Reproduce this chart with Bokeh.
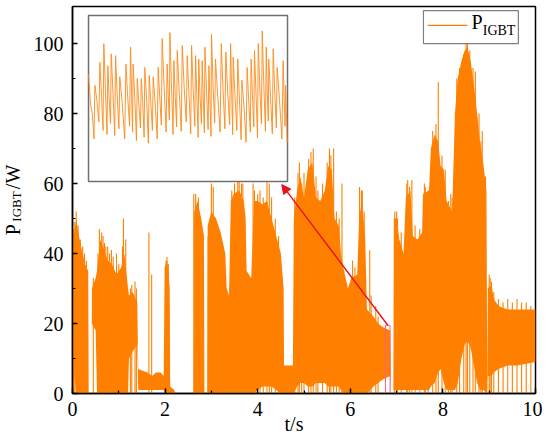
from bokeh.plotting import figure
from bokeh.models import (FixedTicker, Label, Arrow, NormalHead, Title)
from bokeh.embed import file_html
from bokeh.resources import INLINE

# ---------------- data ----------------
x_ticks = [0, 2, 4, 6, 8, 10]
x_minor = [1, 3, 5, 7, 9]
y_ticks = [0, 20, 40, 60, 80, 100]
y_minor = [10, 30, 50, 70, 90]

# envelope of the dense P_IGBT signal: time (s), lower (W), upper (W)
env_t = [0.00, 0.04, 0.08, 0.14, 0.20, 0.27, 0.34, 0.35, 0.41, 0.42, 0.50, 0.53,
         0.60, 0.68, 0.76, 0.85, 0.95, 1.05, 1.12, 1.20, 1.22, 1.30, 1.40, 1.42,
         1.62, 1.72, 1.80, 1.90, 1.97, 1.99, 2.05, 2.10, 2.11, 2.20, 2.22, 2.62,
         2.63, 2.70, 2.78, 2.84, 2.85, 2.91, 2.92, 3.00, 3.10, 3.20, 3.30, 3.33,
         3.38, 3.42, 3.48, 3.60, 3.70, 3.74, 3.76, 3.86, 3.88, 3.92, 4.00, 4.10,
         4.20, 4.30, 4.40, 4.50, 4.56, 4.57, 4.76, 4.78, 4.85, 4.92, 5.00, 5.08,
         5.18, 5.26, 5.35, 5.45, 5.52, 5.60, 5.66, 5.75, 5.80, 5.85, 5.95, 6.02,
         6.15, 6.19, 6.25, 6.32, 6.36, 6.50, 6.60, 6.70, 6.86, 6.88, 6.93, 6.94,
         7.00, 7.06, 7.15, 7.20, 7.30, 7.35, 7.45, 7.55, 7.57, 7.70, 7.74, 7.82,
         7.90, 7.95, 8.02, 8.08, 8.20, 8.26, 8.32, 8.40, 8.47, 8.53, 8.60, 8.67,
         8.74, 8.80, 8.88, 8.94, 8.96, 8.97, 9.05, 9.10, 9.20, 9.40, 9.60, 9.80,
         10.0]
env_lo = [20, 5, 0, 0, 0, 0, 0, 0, 0, 20, 18, 0,
          0, 0, 0, 0, 0, 0, 0, 0, 10, 12, 14, 1,
          1, 1, 1, 1, 1, 0, 0, 0, 0, 0, 0, 0,
          0, 0, 0, 0, 0, 0, 0, 0, 0, 0, 0, 0,
          0, 0, 0, 0, 0, 0, 0, 0, 0, 0, 1, 2,
          2, 2, 1, 0, 0, 0, 0, 0, 2, 3, 3, 2,
          2, 3, 3, 3, 2, 2, 2, 2, 1, 0, 0, 0,
          0, 0, 0, 0, 0, 2, 3, 4, 5, 0, 0, 1,
          1, 1, 1, 1, 1, 1, 1, 1, 1, 1, 2, 3,
          6, 7, 3, 1, 1, 1, 3, 10, 14, 15, 13, 8,
          3, 1, 1, 0, 0, 5, 5, 6, 7, 8, 8, 8.5,
          9]
env_hi = [44, 46, 50, 45, 41, 37, 35, 0, 0, 30, 33, 35,
          44, 41, 38, 37, 34, 36, 40, 30, 28, 29, 26, 7,
          6, 5, 6, 6, 5, 36, 38, 30, 2, 1, 0, 0,
          52, 55, 50, 45, 0, 0, 48, 52, 50, 46, 40, 30,
          28, 55, 57, 58, 55, 50, 35, 33, 40, 55, 55, 54,
          55, 50, 45, 40, 30, 8, 8, 50, 58, 62, 56, 64,
          66, 56, 55, 58, 65, 64, 50, 48, 40, 36, 30, 33,
          34, 50, 55, 45, 24, 22, 20, 19, 18, 0, 0, 50,
          50, 44, 40, 56, 58, 45, 44, 46, 57, 58, 70, 74,
          72, 65, 64, 55, 52, 80, 90, 95, 98, 99, 95, 88,
          80, 72, 65, 58, 0, 30, 31, 27, 25, 24, 24, 24,
          24]

# isolated spikes: time (s), peak (W)
spike_t = [0.02, 0.05, 0.08, 0.12, 0.17, 0.22, 0.26, 0.30, 0.45, 0.55, 0.58, 0.63,
           0.66, 0.69, 0.72, 0.76, 0.80, 0.84, 0.88, 0.95, 1.00, 1.08, 1.10, 1.15,
           1.25, 1.28, 1.35, 1.38, 1.65, 1.71, 2.02, 2.04, 2.07, 2.62, 2.64, 2.66,
           2.72, 2.93, 3.00, 3.04, 3.12, 3.20, 3.44, 3.50, 3.52, 3.57, 3.60, 3.65,
           3.68, 3.90, 3.93, 4.00, 4.05, 4.12, 4.20, 4.25, 4.30, 4.38, 4.45, 4.80,
           4.87, 4.90, 4.95, 5.00, 5.10, 5.15, 5.20, 5.26, 5.30, 5.40, 5.50, 5.55,
           5.58, 5.64, 5.70, 5.76, 5.82, 6.05, 6.10, 6.20, 6.24, 6.26, 6.30, 6.42,
           6.45, 6.55, 6.60, 6.96, 7.00, 7.02, 7.10, 7.22, 7.24, 7.28, 7.33, 7.40,
           7.50, 7.60, 7.62, 7.68, 7.78, 7.85, 7.90, 7.98, 8.05, 8.12, 8.17, 8.20,
           8.30, 8.36, 8.45, 8.50, 8.53, 8.58, 8.65, 8.70, 8.78, 8.82, 8.85, 8.92,
           9.00, 9.02, 9.05, 9.10, 9.20, 9.30, 9.40, 9.50, 9.60, 9.70, 9.80, 9.90]
spike_p = [47, 49, 52, 48, 44, 42, 40, 38, 33, 40, 47, 46,
           45, 43, 42, 42, 40, 41, 39, 40, 37, 42, 50, 44,
           30, 31, 32, 30, 46, 34, 38, 39, 37, 57, 52, 57,
           56, 45, 60, 59, 48, 44, 58, 60, 55, 62, 64, 60,
           60, 60, 58, 57, 58, 56, 63, 60, 56, 50, 45, 56,
           63, 66, 60, 63, 67, 69, 70, 62, 58, 60, 66, 70,
           68, 70, 52, 50, 60, 38, 36, 59, 58, 58, 52, 41,
           28, 25, 22, 52, 52, 50, 46, 60, 61, 59, 61, 48,
           47, 60, 59, 58, 75, 77, 89, 68, 64, 55, 57, 56,
           90, 93, 97, 100, 101, 98, 93, 92, 80, 72, 75, 62,
           34, 33, 32, 29, 27, 26, 27, 26, 27, 26, 26, 25]

# zoomed detail (6.76 s ... 6.86 s): peak times (ms after 6.76 s) and values (W)
inset_start = 6.76
inset_span = 0.1
inset_pmax = 19.5
inset_dt_ms = [1.0, 3.2, 5.7, 7.7, 9.7, 11.4, 13.6, 15.7, 18.8, 21.1, 22.4, 24.5,
               26.5, 28.3, 30.5, 32.5, 35.0, 37.0, 39.5, 40.9, 42.9, 44.6, 47.1,
               49.6, 51.8, 53.8, 55.4, 57.1, 58.5, 60.5, 61.8, 63.8, 66.7, 69.0,
               71.4, 72.7, 75.0, 77.1, 79.7, 81.7, 83.4, 85.3, 87.3, 89.3, 90.6,
               92.8, 94.8, 97.8, 99.0]
inset_peak = [9.1, 11.3, 14.0, 16.2, 13.6, 15.0, 14.8, 12.3, 13.8, 15.8, 13.8, 12.1,
              12.1, 13.4, 12.5, 12.3, 13.4, 16.8, 13.8, 17.5, 14.2, 15.4, 16.0,
              14.8, 16.0, 14.8, 14.4, 14.2, 15.8, 13.6, 17.3, 14.4, 16.2, 15.2,
              16.2, 14.6, 14.4, 11.9, 13.4, 14.4, 15.4, 16.2, 17.7, 15.8, 14.4,
              15.6, 13.4, 14.2, 11.3]
inset_mid = [8.0, 9.5, 10.2, 10.8, 9.6, 10.5, 10.0, 9.2, 9.8, 10.6, 9.9, 9.0,
             9.4, 9.7, 9.3, 9.1, 9.9, 11.0, 10.1, 11.2, 10.0, 10.4, 10.9,
             10.2, 10.8, 10.1, 9.8, 9.9, 10.6, 9.7, 11.1, 10.0, 10.7, 10.3,
             10.6, 10.0, 9.6, 8.8, 9.5, 10.1, 10.4, 10.9, 11.3, 10.5, 9.9,
             10.4, 9.5, 9.8, 8.6]
inset_trough = [5.0, 7.0, 6.0, 5.5, 6.8, 5.4, 6.2, 5.0, 6.5, 5.8, 4.8, 6.3,
                5.2, 4.5, 6.0, 5.0, 6.6, 5.8, 7.2, 5.5, 6.4, 5.9, 7.0,
                5.6, 6.5, 5.2, 6.8, 5.7, 6.1, 5.3, 6.9, 5.8, 6.2, 6.7,
                5.5, 6.0, 4.9, 4.6, 5.8, 6.4, 5.1, 6.8, 5.9, 7.1, 5.6,
                6.3, 5.0, 6.5, 4.6]
inset_first = 12.6

legend_label_main = "P"
legend_label_sub = "IGBT"
x_label = "t/s"
y_label_main = "P"
y_label_sub = "IGBT"
y_label_tail = "/W"

# ---------------- styling / layout ----------------
ORANGE = "#FF8000"
FONT = "Liberation Serif"
NB = "\u00a0"

p = figure(width=542, height=439, x_range=(0, 10), y_range=(0, 110.6),
           output_backend="svg", toolbar_location=None,
           min_border_left=72, min_border_right=7, min_border_top=6,
           min_border_bottom=46, background_fill_color="white",
           border_fill_color="white")
p.xgrid.visible = False
p.ygrid.visible = False
p.outline_line_color = "black"
p.outline_line_width = 1.5

for ax, ticks, minor in ((p.xaxis, x_ticks, x_minor), (p.yaxis, y_ticks, y_minor)):
    ax.ticker = FixedTicker(ticks=ticks, minor_ticks=minor)
    ax.axis_line_width = 1.5
    ax.major_tick_in = 5
    ax.major_tick_out = 0
    ax.minor_tick_in = 3
    ax.minor_tick_out = 0
    ax.major_tick_line_width = 1.5
    ax.minor_tick_line_width = 1.2
    ax.major_label_text_font = FONT
    ax.major_label_text_font_size = "20px"
    ax.major_label_text_color = "black"
    ax.axis_label_text_font = FONT
    ax.axis_label_text_font_style = "normal"
    ax.axis_label_text_color = "black"
p.xaxis.major_label_standoff = 8
p.yaxis.major_label_standoff = 9

# x label (padded so that it sits a little left of centre)
p.xaxis.axis_label = x_label + NB * 4
p.xaxis.axis_label_text_font_size = "20px"
p.xaxis.axis_label_standoff = -6

# y label: subscript as the axis label (padded to sit lower), main text as an outer title
p.yaxis.axis_label = y_label_sub + NB * 4
p.yaxis.axis_label_text_font_size = "13px"
p.yaxis.axis_label_standoff = 7
p.add_layout(Title(text=y_label_main + NB * 7 + y_label_tail, align="center",
                   text_font=FONT, text_font_size="20px", text_font_style="normal",
                   text_color="black", standoff=-36), "left")

# main signal
p.varea(x=env_t, y1=env_lo, y2=env_hi, fill_color=ORANGE)
p.segment(x0=spike_t, y0=[0] * len(spike_t), x1=spike_t, y1=spike_p,
          line_color=ORANGE, line_width=1.1)

# inset box (in data coordinates of the main plot)
bx0, bx1, by0, by1 = 0.346, 4.644, 60.6, 108.0
p.quad(left=[bx0], right=[bx1], bottom=[by0], top=[by1], fill_color="white",
       line_color="#707070", line_width=1.5)

# inset series
it, iv = [inset_start], [inset_first]
n = len(inset_dt_ms)
for i in range(n):
    t0 = inset_start + inset_dt_ms[i] / 1000.0
    gap = ((inset_dt_ms[i + 1] - inset_dt_ms[i]) / 1000.0) if i + 1 < n else 0.001
    it += [t0, t0 + 0.4 * gap, t0 + 0.8 * gap]
    iv += [inset_peak[i], inset_mid[i], inset_trough[i]]
ix = [bx0 + (t - inset_start) / inset_span * (bx1 - bx0) for t in it]
iy = [by0 + v / inset_pmax * (by1 - by0) for v in iv]
p.line(x=ix, y=iy, line_color="#FF8A1A", line_width=0.9)

# highlighted region and arrow
p.quad(left=[inset_start], right=[inset_start + inset_span], bottom=[0],
       top=[inset_pmax], fill_color=None, line_color="#FF6080", line_width=1)
p.add_layout(Arrow(end=NormalHead(size=9, fill_color="#E8101C", line_color="#E8101C"),
                   x_start=6.81, y_start=inset_pmax, x_end=4.52, y_end=59.7,
                   line_color="#E8101C", line_width=1.4))

# legend (custom, for the subscript)
p.quad(left=[7.58], right=[9.63], bottom=[100.0], top=[109.4], fill_color="white",
       line_color="#808080", line_width=1.2)
p.line(x=[7.67, 8.53], y=[105.2, 105.2], line_color=ORANGE, line_width=1.2)
p.add_layout(Label(x=8.62, y=102.9, text=legend_label_main, text_font=FONT,
                   text_font_size="20px", text_color="black"))
p.add_layout(Label(x=8.86, y=101.7, text=legend_label_sub, text_font=FONT,
                   text_font_size="14px", text_color="black"))

open("out.html", "w").write(file_html(p, INLINE))
